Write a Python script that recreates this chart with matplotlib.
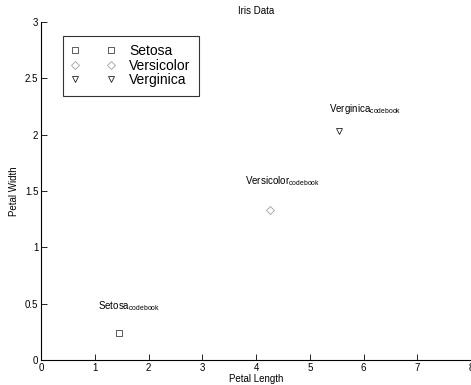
import matplotlib
matplotlib.use("Agg")
import matplotlib.pyplot as plt

# Iris codebook (class means of petal length / width)
species = ["Setosa", "Versicolor", "Verginica"]
petal_length = [1.46, 4.26, 5.55]
petal_width = [0.24, 1.33, 2.03]
# label anchor points (data coords)
label_x = [1.06, 3.79, 5.35]
label_y = [0.45, 1.56, 2.20]

markers = ["s", "D", "v"]
colors = ["#404040", "#a0a0a0", "#202020"]
sizes = [4, 4, 5]

plt.rcParams['font.family'] = ['Liberation Sans', 'DejaVu Sans']
plt.rcParams['mathtext.fontset'] = 'custom'
plt.rcParams['mathtext.rm'] = 'Liberation Sans'

fig = plt.figure(figsize=(4.71, 3.85), dpi=100)
ax = fig.add_axes([41 / 471, 25 / 385, 430 / 471, 338 / 385])

handles = []
for i, name in enumerate(species):
    h, = ax.plot([petal_length[i]], [petal_width[i]], linestyle="none",
                 marker=markers[i], markersize=sizes[i], markerfacecolor="none",
                 markeredgecolor=colors[i], markeredgewidth=0.6, label=name)
    handles.append(h)
    ax.text(label_x[i], label_y[i], name + r"$_{\mathrm{codebook}}$",
            fontsize=7, ha="left", va="baseline")

ax.set_xlim(0, 8)
ax.set_ylim(0, 3)
ax.set_xticks(range(0, 9))
ax.set_yticks([0, 0.5, 1, 1.5, 2, 2.5, 3])
ax.set_yticklabels(["0", "0.5", "1", "1.5", "2", "2.5", "3"])
ax.tick_params(direction="in", length=4, width=0.6, labelsize=7, pad=2)
for s in ["top", "right"]:
    ax.spines[s].set_visible(False)
for s in ["left", "bottom"]:
    ax.spines[s].set_linewidth(0.8)

ax.set_xlabel("Petal Length", fontsize=7, labelpad=1)
ax.set_ylabel("Petal Width", fontsize=7, labelpad=4)
ax.set_title("Iris Data", fontsize=7, pad=6)

leg = ax.legend(handles=handles, loc="upper left", bbox_to_anchor=(0.05, 0.96),
                numpoints=2, fontsize=10, frameon=True, fancybox=False,
                handlelength=3.2, handletextpad=1.0, labelspacing=0.05,
                borderpad=0.6, borderaxespad=0)
leg.get_frame().set_edgecolor("black")
leg.get_frame().set_linewidth(0.8)

fig.savefig("out.png", dpi=100)
